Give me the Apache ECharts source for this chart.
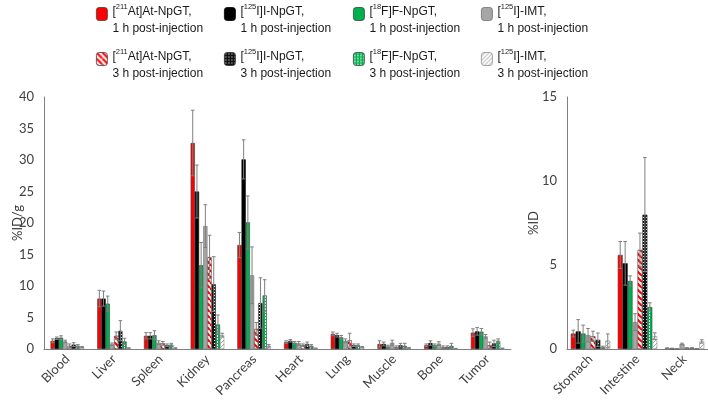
<!DOCTYPE html>
<html><head><meta charset="utf-8">
<script src="https://cdn.jsdelivr.net/npm/echarts@6/dist/echarts.min.js"></script>
<style>html,body{margin:0;padding:0;background:#fff}#c{width:708px;height:405px}</style>
</head><body><div id="c"></div>
<script>
// ---- data ----
const organsLeft = ['Blood','Liver','Spleen','Kidney','Pancreas','Heart','Lung','Muscle','Bone','Tumor'];
const organsRight = ['Stomach','Intestine','Neck'];
const seriesNames = [
  '[211At]At-NpGT, 1 h','[125I]I-NpGT, 1 h','[18F]F-NpGT, 1 h','[125I]-IMT, 1 h',
  '[211At]At-NpGT, 3 h','[125I]I-NpGT, 3 h','[18F]F-NpGT, 3 h','[125I]-IMT, 3 h'
];
// %ID/g (left panel)
const at1hLeft  = [1.3, 8.0, 2.1, 32.7, 16.5, 1.1, 2.4, 0.8, 0.6, 2.6];
const i1hLeft   = [1.7, 8.0, 2.1, 25.0, 30.1, 1.3, 2.2, 0.8, 0.95, 2.8];
const f1hLeft   = [1.8, 7.2, 2.2, 13.3, 20.1, 1.0, 1.85, 0.4, 0.6, 2.75];
const imt1hLeft = [1.2, 0.75, 1.0, 19.5, 11.7, 0.9, 1.3, 1.0, 0.85, 2.0];
const at3hLeft  = [0.5, 2.1, 0.9, 14.6, 3.2, 0.6, 1.4, 0.3, 0.3, 0.6];
const i3hLeft   = [0.7, 2.9, 0.6, 10.3, 7.3, 0.8, 0.6, 0.6, 0.3, 0.9];
const f3hLeft   = [0.5, 1.2, 0.7, 3.9, 8.5, 0.5, 0.6, 0.5, 0.5, 1.3];
const imt3hLeft = [0.3, 0.1, 0.1, 2.2, 0.5, 0.1, 0.3, 0.15, 0.05, 0.1];
const at1hLeftErr  = [0.3, 1.3, 0.5, 5.2, 2.0, 0.2, 0.3, 0.5, 0.2, 0.6];
const i1hLeftErr   = [0.2, 1.2, 0.5, 4.2, 3.1, 0.2, 0.3, 0.3, 0.35, 0.6];
const f1hLeftErr   = [0.3, 1.2, 0.7, 3.6, 4.2, 0.2, 0.3, 0.2, 0.2, 0.5];
const imt1hLeftErr = [0.2, 0.2, 0.3, 3.4, 4.5, 0.3, 0.3, 0.4, 0.3, 0.3];
const at3hLeftErr  = [0.3, 0.6, 0.3, 3.45, 1.0, 0.2, 1.1, 0.2, 0.2, 0.5];
const i3hLeftErr   = [0.3, 1.6, 0.2, 4.35, 4.0, 0.3, 0.2, 0.3, 0.2, 0.5];
const f3hLeftErr   = [0.2, 0.5, 0.2, 1.5, 2.5, 0.2, 0.2, 0.4, 0.4, 0.3];
const imt3hLeftErr = [0.1, 0.1, 0.1, 0.3, 0.2, 0.05, 0.1, 0.1, 0.05, 0.05];
// %ID (right panel)
const at1hRight  = [0.92, 5.6, 0.05];
const i1hRight   = [1.05, 5.1, 0.03];
const f1hRight   = [0.92, 4.05, 0.02];
const imt1hRight = [0.82, 1.6, 0.3];
const at3hRight  = [0.76, 5.9, 0.06];
const i3hRight   = [0.55, 8.0, 0.06];
const f3hRight   = [0.12, 2.5, 0.02];
const imt3hRight = [0.5, 0.76, 0.45];
const at1hRightErr  = [0.2, 0.8, 0.02];
const i1hRightErr   = [0.7, 1.3, 0.02];
const f1hRightErr   = [0.5, 0.3, 0.01];
const imt1hRightErr = [0.4, 0.5, 0.05];
const at3hRightErr  = [0.3, 1.0, 0.02];
const i3hRightErr   = [0.4, 3.4, 0.02];
const f3hRightErr   = [0.05, 0.25, 0.01];
const imt3hRightErr = [0.4, 0.2, 0.1];
const leftTicks = {min: 0, max: 40, interval: 5};
const rightTicks = {min: 0, max: 15, interval: 5};

// ---- styles ----
function makePattern(size, draw) {
  const c = document.createElement('canvas');
  c.width = size; c.height = size;
  const ctx = c.getContext('2d');
  draw(ctx, size);
  return {image: c, repeat: 'repeat'};
}
const redHatch = makePattern(6, (ctx, s) => {
  ctx.fillStyle = '#fff'; ctx.fillRect(0,0,s,s);
  ctx.strokeStyle = '#ff0000'; ctx.lineWidth = 2.2;
  for (let k = -1; k <= 1; k++) { ctx.beginPath(); ctx.moveTo(k*s, 0); ctx.lineTo(k*s + s, s); ctx.stroke(); }
});
const checker = makePattern(3, (ctx, s) => {
  ctx.fillStyle = '#111'; ctx.fillRect(0,0,s,s);
  ctx.fillStyle = '#fff'; ctx.fillRect(1,1,1,1);
});
const greenDots = makePattern(3, (ctx, s) => {
  ctx.fillStyle = '#00b050'; ctx.fillRect(0,0,s,s);
  ctx.fillStyle = '#e8ffe8'; ctx.fillRect(1,0,1,1); ctx.fillRect(1,2,1,1);
});
const grayHatch = makePattern(4, (ctx, s) => {
  ctx.fillStyle = '#fff'; ctx.fillRect(0,0,s,s);
  ctx.strokeStyle = '#9a9a9a'; ctx.lineWidth = 0.9;
  for (let k = -1; k <= 1; k++) { ctx.beginPath(); ctx.moveTo(k*s, s); ctx.lineTo(k*s + s, 0); ctx.stroke(); }
});
const fills = ['#ff0000', '#000000', '#00b050', '#a6a6a6', redHatch, checker, greenDots, grayHatch];
const borders = ['#404040', '#000000', '#404040', '#6e6e6e', '#404040', '#303030', '#404040', '#8c8c8c'];

const leftVals = [at1hLeft, i1hLeft, f1hLeft, imt1hLeft, at3hLeft, i3hLeft, f3hLeft, imt3hLeft];
const leftErrs = [at1hLeftErr, i1hLeftErr, f1hLeftErr, imt1hLeftErr, at3hLeftErr, i3hLeftErr, f3hLeftErr, imt3hLeftErr];
const rightVals = [at1hRight, i1hRight, f1hRight, imt1hRight, at3hRight, i3hRight, f3hRight, imt3hRight];
const rightErrs = [at1hRightErr, i1hRightErr, f1hRightErr, imt1hRightErr, at3hRightErr, i3hRightErr, f3hRightErr, imt3hRightErr];

const gapLeft = 0.28, gapRight = 0.16;
const axisFont = {fontFamily: 'Lato', fontSize: 13, color: '#404040'};

function barSeries(vals, gi, gap) {
  return vals.map((arr, i) => ({
    name: seriesNames[i], type: 'bar', xAxisIndex: gi, yAxisIndex: gi,
    data: arr, barGap: '0%', barCategoryGap: (gap*100) + '%',
    itemStyle: {color: fills[i], borderColor: borders[i], borderWidth: 0.6},
    emphasis: {disabled: true}, animation: false
  }));
}
function errSeries(vals, errs, gi, gap) {
  const data = [];
  vals.forEach((arr, s) => arr.forEach((v, c) => data.push([c, s, v, errs[s][c]])));
  return {
    type: 'custom', xAxisIndex: gi, yAxisIndex: gi, z: 5, silent: true, animation: false,
    data: data,
    renderItem: function (params, api) {
      const c = api.value(0), s = api.value(1), v = api.value(2), e = api.value(3);
      const band = api.size([1, 0])[0];
      const groupW = band * (1 - gap), bw = groupW / 8;
      const mid = api.coord([c, v]);
      const x = mid[0] - groupW / 2 + bw * (s + 0.5);
      const top = api.coord([c, v + e])[1];
      const bot = api.coord([c, Math.max(v - e, 0)])[1];
      const st = {stroke: '#7f7f7f', lineWidth: 1};
      const cap = 1.8;
      return {type: 'group', children: [
        {type: 'line', shape: {x1: x, y1: top, x2: x, y2: bot}, style: st},
        {type: 'line', shape: {x1: x - cap, y1: top, x2: x + cap, y2: top}, style: st},
        {type: 'line', shape: {x1: x - cap, y1: bot, x2: x + cap, y2: bot}, style: st}
      ]};
    }
  };
}

// legend
const legendLabels = {};
seriesNames.forEach(n => {
  const m = n.match(/^\[(\d+)(.*?), (\d) h$/);
  legendLabels[n] = '{t|[}{s|' + m[1] + '}{t|' + m[2] + ',}\n{t|' + m[3] + ' h post-injection}';
});
const legendX = [96, 224, 353, 481];
const legends = seriesNames.map((n, i) => ({
  data: [n], left: legendX[i % 4], top: i < 4 ? -9 : 36,
  orient: 'horizontal', itemWidth: 11, itemHeight: 13, itemGap: 0, padding: 0,
  selectedMode: false,
  formatter: name => legendLabels[name],
  textStyle: {
    fontFamily: 'Liberation Sans', fontSize: 12, color: '#1a1a1a', lineHeight: 17,
    padding: [12, 0, 0, 0],
    rich: {
      t: {fontFamily: 'Liberation Sans', fontSize: 12, color: '#1a1a1a', lineHeight: 17},
      s: {fontFamily: 'Liberation Sans', fontSize: 7.5, color: '#1a1a1a', lineHeight: 17, verticalAlign: 'top', padding: [0,0,6,0]}
    }
  },
  itemStyle: {borderWidth: 0.8}
}));

const option = {
  animation: false,
  legend: legends,
  grid: [
    {left: 44, right: 197, top: 97, bottom: 56, containLabel: false, outerBoundsMode: 'none'},
    {left: 567, right: 0, top: 97, bottom: 56, containLabel: false, outerBoundsMode: 'none'}
  ],
  xAxis: [
    {type: 'category', gridIndex: 0, data: organsLeft,
     axisLine: {lineStyle: {color: '#7f7f7f'}}, axisTick: {show: false},
     axisLabel: Object.assign({rotate: 45, interval: 0, margin: 8}, axisFont)},
    {type: 'category', gridIndex: 1, data: organsRight,
     axisLine: {lineStyle: {color: '#7f7f7f'}}, axisTick: {show: false},
     axisLabel: Object.assign({rotate: 45, interval: 0, margin: 8}, axisFont)}
  ],
  yAxis: [
    {type: 'value', gridIndex: 0, min: leftTicks.min, max: leftTicks.max, interval: leftTicks.interval,
     name: '%ID/g', nameLocation: 'middle', nameGap: 20, nameMoveOverlap: false, nameTextStyle: axisFont,
     axisLine: {show: true, lineStyle: {color: '#7f7f7f'}}, axisTick: {show: false},
     splitLine: {show: false}, axisLabel: Object.assign({margin: 10}, axisFont)},
    {type: 'value', gridIndex: 1, min: rightTicks.min, max: rightTicks.max, interval: rightTicks.interval,
     name: '%ID', nameLocation: 'middle', nameGap: 27, nameMoveOverlap: false, nameTextStyle: axisFont,
     axisLine: {show: true, lineStyle: {color: '#7f7f7f'}}, axisTick: {show: false},
     splitLine: {show: false}, axisLabel: Object.assign({margin: 10}, axisFont)}
  ],
  series: [].concat(
    barSeries(leftVals, 0, gapLeft), barSeries(rightVals, 1, gapRight),
    [errSeries(leftVals, leftErrs, 0, gapLeft), errSeries(rightVals, rightErrs, 1, gapRight)]
  )
};
const chart = echarts.init(document.getElementById('c'), null, {renderer: 'canvas'});
chart.setOption(option);
</script></body></html>
